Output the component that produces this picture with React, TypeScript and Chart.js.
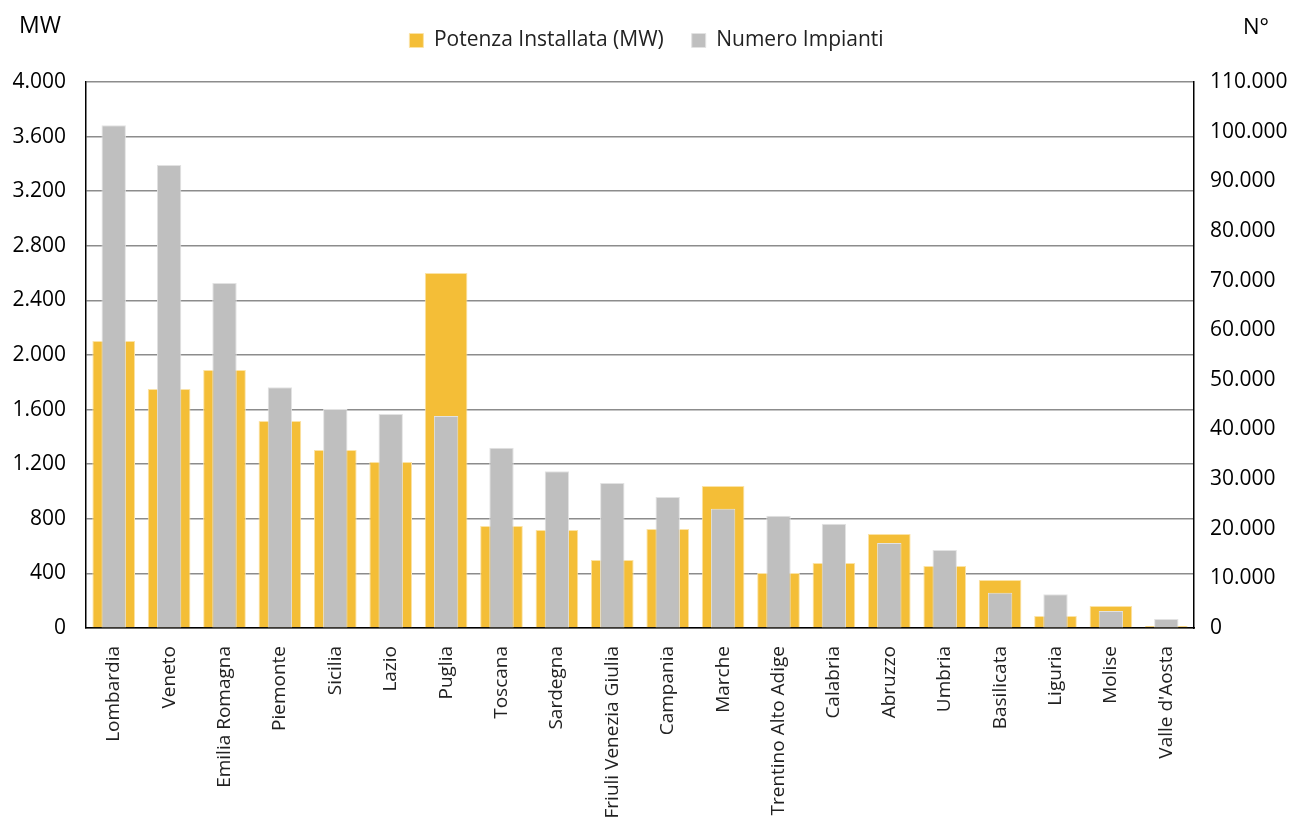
import React, { useEffect, useRef } from "react";
import { Chart, registerables } from "chart.js";

Chart.register(...registerables);

const regions = [
  "Lombardia", "Veneto", "Emilia Romagna", "Piemonte", "Sicilia", "Lazio", "Puglia",
  "Toscana", "Sardegna", "Friuli Venezia Giulia", "Campania", "Marche",
  "Trentino Alto Adige", "Calabria", "Abruzzo", "Umbria", "Basilicata", "Liguria",
  "Molise", "Valle d'Aosta",
];

const potenzaMW = [
  2103, 1751, 1890, 1516, 1304, 1216, 2601, 747, 718, 498, 725, 1040, 403, 476, 689,
  454, 352, 88, 161, 15,
];

const numeroImpianti = [
  101300, 93300, 69500, 48500, 44100, 43100, 42700, 36300, 31600, 29200, 26400, 24000,
  22600, 21000, 17100, 15700, 7100, 6800, 3400, 1800,
];

const leftAxisTitle = "MW";
const rightAxisTitle = "N°";
const seriesNames = ["Potenza Installata (MW)", "Numero Impianti"];

const FONT = "'Open Sans', 'Noto Sans', sans-serif";
const ORANGE = "#F4BE37";
const GRAY = "#BFBFBF";

const fmt = (v: number) => String(Math.round(v)).replace(/\B(?=(\d{3})+(?!\d))/g, ".");

const axisTitles = {
  id: "axisTitles",
  afterDraw(chart: any) {
    const ctx = chart.ctx;
    ctx.save();
    ctx.fillStyle = "#000";
    ctx.textBaseline = "middle";
    ctx.textAlign = "center";
    ctx.font = `23px ${FONT}`;
    ctx.fillText(leftAxisTitle, 40, 26);
    ctx.font = `22px ${FONT}`;
    ctx.fillText(rightAxisTitle, 1256, 28);
    ctx.restore();
  },
};

const legendSpace = {
  id: "legendSpace",
  beforeLayout(chart: any) {
    const lg = chart.legend;
    if (lg && !lg._patched) {
      const f = lg.fit;
      lg.fit = function () {
        f.call(this);
        this.height = 80;
      };
      lg._patched = true;
    }
  },
};

export default function App() {
  const ref = useRef<HTMLCanvasElement | null>(null);

  useEffect(() => {
    if (!ref.current) return;
    const chart = new Chart(ref.current, {
      type: "bar",
      data: {
        labels: regions,
        datasets: [
          {
            label: seriesNames[0],
            data: potenzaMW,
            backgroundColor: ORANGE,
            borderColor: "#FBE3A6",
            borderWidth: 1,
            yAxisID: "y",
            grouped: false,
            order: 1,
            barPercentage: 0.77,
            categoryPercentage: 1,
          },
          {
            label: seriesNames[1],
            data: numeroImpianti,
            backgroundColor: GRAY,
            borderColor: "#E2E2E2",
            borderWidth: 1,
            yAxisID: "y1",
            grouped: false,
            order: 0,
            barPercentage: 0.44,
            categoryPercentage: 1,
          },
        ],
      },
      options: {
        animation: false,
        responsive: true,
        maintainAspectRatio: false,
        layout: { padding: { top: 2, left: 0, right: 0, bottom: 0 } },
        plugins: {
          tooltip: { enabled: false },
          legend: {
            position: "top",
            labels: {
              font: { family: FONT, size: 21 },
              color: "#222",
              boxWidth: 14,
              boxHeight: 14,
              padding: 28,
              sort: (a: any, b: any) => a.datasetIndex - b.datasetIndex,
            },
          },
        },
        scales: {
          x: {
            grid: { display: false },
            border: { color: "#000", width: 1.5 },
            ticks: {
              color: "#222",
              font: { family: FONT, size: 19 },
              minRotation: 90,
              maxRotation: 90,
              autoSkip: false,
              padding: 10,
            },
            afterFit: (s: any) => {
              s.height = 198;
            },
          },
          y: {
            position: "left",
            min: 0,
            max: 4000,
            ticks: {
              stepSize: 400,
              color: "#000",
              font: { family: FONT, size: 21 },
              padding: 20,
              callback: (v: any) => fmt(Number(v)),
            },
            grid: { color: "#8C8C8C", lineWidth: 1.5, drawTicks: false },
            border: { color: "#000", width: 1.5 },
            afterFit: (s: any) => {
              s.width = 86;
            },
          },
          y1: {
            position: "right",
            min: 0,
            max: 110000,
            ticks: {
              stepSize: 10000,
              color: "#000",
              font: { family: FONT, size: 21 },
              padding: 16,
              callback: (v: any) => fmt(Number(v)),
            },
            grid: { drawOnChartArea: false, drawTicks: false },
            border: { color: "#000", width: 1.5 },
            afterFit: (s: any) => {
              s.width = 99;
            },
          },
        },
      },
      plugins: [axisTitles, legendSpace],
    });
    return () => chart.destroy();
  }, []);

  return (
    <div style={{ position: "fixed", left: 0, top: 0, width: 1293, height: 826, background: "#fff" }}>
      <canvas ref={ref} />
    </div>
  );
}
